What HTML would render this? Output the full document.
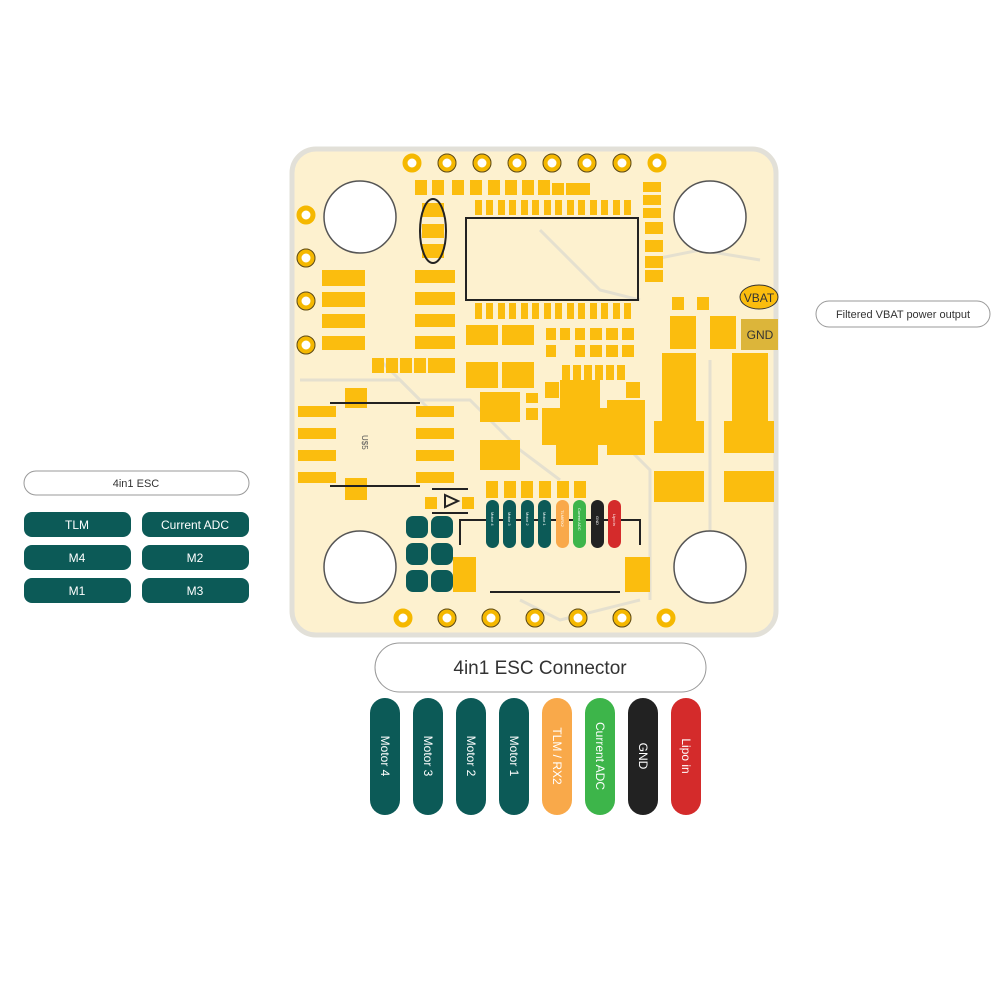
<!DOCTYPE html>
<html><head><meta charset="utf-8"><style>
body{margin:0;background:#fff;}
svg{display:block;font-family:"Liberation Sans",sans-serif;}
</style></head><body>
<svg width="1000" height="1000" viewBox="0 0 1000 1000" xmlns="http://www.w3.org/2000/svg">
<rect x="0" y="0" width="1000" height="1000" fill="#fff"/>
<rect x="292" y="149" width="484" height="486" rx="24" fill="#fdf1cf" stroke="#e2e0d8" stroke-width="5"/>
<g stroke="#e5e0cf" stroke-width="3" fill="none">
<path d="M380 360 L420 400 L470 400 L520 450 L560 480"/>
<path d="M300 380 L400 380 L430 410"/>
<path d="M540 230 L600 290 L640 300"/>
<path d="M520 600 L560 620 L640 600"/>
<path d="M650 260 L700 250 L760 260"/>
<path d="M600 420 L650 470 L650 600"/>
<path d="M710 360 L710 600"/>
</g>
<g fill="#fff" stroke="#555" stroke-width="1.5">
<circle cx="360" cy="217" r="36"/><circle cx="710" cy="217" r="36"/>
<circle cx="360" cy="567" r="36"/><circle cx="710" cy="567" r="36"/>
</g>
<g fill="#fff" stroke="#f5b800" stroke-width="5">
<circle cx="412" cy="163" r="7"/><circle cx="447" cy="163" r="7"/><circle cx="482" cy="163" r="7"/><circle cx="517" cy="163" r="7"/><circle cx="552" cy="163" r="7"/><circle cx="587" cy="163" r="7"/><circle cx="622" cy="163" r="7"/><circle cx="657" cy="163" r="7"/>
<circle cx="306" cy="215" r="7"/><circle cx="306" cy="258" r="7"/><circle cx="306" cy="301" r="7"/><circle cx="306" cy="345" r="7"/>
<circle cx="403" cy="618" r="7"/><circle cx="447" cy="618" r="7"/><circle cx="491" cy="618" r="7"/><circle cx="535" cy="618" r="7"/><circle cx="578" cy="618" r="7"/><circle cx="622" cy="618" r="7"/><circle cx="666" cy="618" r="7"/>
</g>
<g fill="none" stroke="#5a4a20" stroke-width="1">
<circle cx="447" cy="163" r="9"/><circle cx="482" cy="163" r="9"/><circle cx="517" cy="163" r="9"/><circle cx="552" cy="163" r="9"/><circle cx="587" cy="163" r="9"/><circle cx="622" cy="163" r="9"/>
<circle cx="306" cy="258" r="9"/><circle cx="306" cy="301" r="9"/><circle cx="306" cy="345" r="9"/>
<circle cx="447" cy="618" r="9"/><circle cx="491" cy="618" r="9"/><circle cx="535" cy="618" r="9"/><circle cx="578" cy="618" r="9"/><circle cx="622" cy="618" r="9"/>
</g>
<g fill="#fbbd0e">
<rect x="415" y="180" width="12" height="15"/><rect x="432" y="180" width="12" height="15"/><rect x="452" y="180" width="12" height="15"/><rect x="470" y="180" width="12" height="15"/><rect x="488" y="180" width="12" height="15"/><rect x="505" y="180" width="12" height="15"/><rect x="522" y="180" width="12" height="15"/><rect x="538" y="180" width="12" height="15"/><rect x="552" y="183" width="12" height="12"/><rect x="566" y="183" width="12" height="12"/><rect x="578" y="183" width="12" height="12"/>
<rect x="643" y="182" width="18" height="10"/><rect x="643" y="195" width="18" height="10"/><rect x="643" y="208" width="18" height="10"/><rect x="645" y="222" width="18" height="12"/><rect x="645" y="240" width="18" height="12"/><rect x="645" y="256" width="18" height="12"/><rect x="645" y="270" width="18" height="12"/>
<rect x="475" y="200" width="7" height="15"/><rect x="486" y="200" width="7" height="15"/><rect x="498" y="200" width="7" height="15"/><rect x="509" y="200" width="7" height="15"/><rect x="521" y="200" width="7" height="15"/><rect x="532" y="200" width="7" height="15"/><rect x="544" y="200" width="7" height="15"/><rect x="555" y="200" width="7" height="15"/><rect x="567" y="200" width="7" height="15"/><rect x="578" y="200" width="7" height="15"/><rect x="590" y="200" width="7" height="15"/><rect x="601" y="200" width="7" height="15"/><rect x="613" y="200" width="7" height="15"/><rect x="624" y="200" width="7" height="15"/>
<rect x="475" y="303" width="7" height="16"/><rect x="486" y="303" width="7" height="16"/><rect x="498" y="303" width="7" height="16"/><rect x="509" y="303" width="7" height="16"/><rect x="521" y="303" width="7" height="16"/><rect x="532" y="303" width="7" height="16"/><rect x="544" y="303" width="7" height="16"/><rect x="555" y="303" width="7" height="16"/><rect x="567" y="303" width="7" height="16"/><rect x="578" y="303" width="7" height="16"/><rect x="590" y="303" width="7" height="16"/><rect x="601" y="303" width="7" height="16"/><rect x="613" y="303" width="7" height="16"/><rect x="624" y="303" width="7" height="16"/>
<rect x="322" y="270" width="43" height="16"/><rect x="322" y="292" width="43" height="15"/><rect x="322" y="314" width="43" height="14"/><rect x="322" y="336" width="43" height="14"/>
<rect x="415" y="270" width="40" height="13"/><rect x="415" y="292" width="40" height="13"/><rect x="415" y="314" width="40" height="13"/><rect x="415" y="336" width="40" height="13"/>
<rect x="372" y="358" width="12" height="15"/><rect x="386" y="358" width="12" height="15"/><rect x="400" y="358" width="12" height="15"/><rect x="414" y="358" width="12" height="15"/><rect x="428" y="358" width="27" height="15"/>
<rect x="422" y="203" width="22" height="14"/><rect x="422" y="224" width="22" height="14"/><rect x="422" y="244" width="22" height="14"/>
<rect x="298" y="406" width="38" height="11"/><rect x="298" y="428" width="38" height="11"/><rect x="298" y="450" width="38" height="11"/><rect x="298" y="472" width="38" height="11"/>
<rect x="416" y="406" width="38" height="11"/><rect x="416" y="428" width="38" height="11"/><rect x="416" y="450" width="38" height="11"/><rect x="416" y="472" width="38" height="11"/>
<rect x="345" y="388" width="22" height="20"/><rect x="345" y="478" width="22" height="22"/>
<rect x="466" y="325" width="32" height="20"/><rect x="502" y="325" width="32" height="20"/>
<rect x="466" y="362" width="32" height="26"/><rect x="502" y="362" width="32" height="26"/>
<rect x="480" y="392" width="40" height="30"/><rect x="480" y="440" width="40" height="30"/>
<rect x="526" y="393" width="12" height="10"/><rect x="526" y="408" width="12" height="12"/>
<rect x="546" y="328" width="10" height="12"/><rect x="560" y="328" width="10" height="12"/><rect x="575" y="328" width="10" height="12"/><rect x="590" y="328" width="12" height="12"/><rect x="606" y="328" width="12" height="12"/><rect x="622" y="328" width="12" height="12"/>
<rect x="546" y="345" width="10" height="12"/><rect x="575" y="345" width="10" height="12"/><rect x="590" y="345" width="12" height="12"/><rect x="606" y="345" width="12" height="12"/><rect x="622" y="345" width="12" height="12"/>
<rect x="562" y="365" width="8" height="15"/><rect x="573" y="365" width="8" height="15"/><rect x="584" y="365" width="8" height="15"/><rect x="595" y="365" width="8" height="15"/><rect x="606" y="365" width="8" height="15"/><rect x="617" y="365" width="8" height="15"/>
<rect x="560" y="380" width="40" height="28"/>
<rect x="542" y="408" width="65" height="37"/><rect x="607" y="400" width="38" height="55"/>
<rect x="556" y="445" width="42" height="20"/><rect x="545" y="382" width="14" height="16"/><rect x="626" y="382" width="14" height="16"/>
<rect x="672" y="297" width="12" height="13"/><rect x="697" y="297" width="12" height="13"/>
<rect x="670" y="316" width="26" height="33"/><rect x="710" y="316" width="26" height="33"/>
<rect x="662" y="353" width="34" height="68"/><rect x="732" y="353" width="36" height="68"/>
<rect x="654" y="421" width="50" height="32"/><rect x="724" y="421" width="50" height="32"/>
<rect x="654" y="471" width="50" height="31"/><rect x="724" y="471" width="50" height="31"/>
<rect x="453" y="557" width="23" height="35"/><rect x="625" y="557" width="25" height="35"/>
<rect x="425" y="497" width="12" height="12"/><rect x="462" y="497" width="12" height="12"/>
<rect x="486" y="481" width="12" height="17"/><rect x="504" y="481" width="12" height="17"/><rect x="521" y="481" width="12" height="17"/><rect x="539" y="481" width="12" height="17"/><rect x="557" y="481" width="12" height="17"/><rect x="574" y="481" width="12" height="17"/>
</g>
<ellipse cx="433" cy="231" rx="13" ry="32" fill="none" stroke="#222" stroke-width="2"/>
<rect x="466" y="218" width="172" height="82" fill="none" stroke="#222" stroke-width="2"/>
<g stroke="#222" stroke-width="2" fill="none">
<path d="M330 403 H420"/><path d="M330 486 H420"/>
<path d="M432 489 H468"/><path d="M432 513 H468"/>
<path d="M460 545 V520 H640 V545"/><path d="M490 592 H620"/>
</g>
<path d="M445 495 L458 501 L445 507 Z" fill="none" stroke="#222" stroke-width="2"/>
<text x="362" y="435" font-size="8" fill="#555" transform="rotate(90 362 435)">U$5</text>
<g fill="#0c5a57">
<rect x="406" y="516" width="22" height="22" rx="7"/><rect x="431" y="516" width="22" height="22" rx="7"/>
<rect x="406" y="543" width="22" height="22" rx="7"/><rect x="431" y="543" width="22" height="22" rx="7"/>
<rect x="406" y="570" width="22" height="22" rx="7"/><rect x="431" y="570" width="22" height="22" rx="7"/>
</g>
<g font-size="4" fill="#fff">
<rect x="486" y="500" width="13" height="48" rx="6.5" fill="#0c5a57"/>
<rect x="503" y="500" width="13" height="48" rx="6.5" fill="#0c5a57"/>
<rect x="521" y="500" width="13" height="48" rx="6.5" fill="#0c5a57"/>
<rect x="538" y="500" width="13" height="48" rx="6.5" fill="#0c5a57"/>
<rect x="556" y="500" width="13" height="48" rx="6.5" fill="#f9a94a"/>
<rect x="573" y="500" width="13" height="48" rx="6.5" fill="#3db54a"/>
<rect x="591" y="500" width="13" height="48" rx="6.5" fill="#222"/>
<rect x="608" y="500" width="13" height="48" rx="6.5" fill="#d42b2b"/>
<text transform="translate(491 512) rotate(90)">Motor 4</text>
<text transform="translate(508 512) rotate(90)">Motor 3</text>
<text transform="translate(526 512) rotate(90)">Motor 2</text>
<text transform="translate(543 512) rotate(90)">Motor 1</text>
<text transform="translate(561 510) rotate(90)">TLM/RX2</text>
<text transform="translate(578 508) rotate(90)">Current ADC</text>
<text transform="translate(596 516) rotate(90)">GND</text>
<text transform="translate(613 514) rotate(90)">Lipo in</text>
</g>
<ellipse cx="759" cy="297" rx="19" ry="12" fill="#fbbd0e" stroke="#333" stroke-width="1"/>
<text x="759" y="302" font-size="12" text-anchor="middle" fill="#333">VBAT</text>
<rect x="741" y="319" width="37" height="31" fill="#dcb53a"/>
<text x="760" y="339" font-size="12" text-anchor="middle" fill="#333">GND</text>
<rect x="816" y="301" width="174" height="26" rx="13" fill="#fff" stroke="#999"/>
<text x="903" y="318" font-size="11" text-anchor="middle" fill="#333">Filtered VBAT power output</text>
<rect x="24" y="471" width="225" height="24" rx="12" fill="#fff" stroke="#999"/>
<text x="136" y="487" font-size="11" text-anchor="middle" fill="#333">4in1 ESC</text>
<g fill="#0c5a57">
<rect x="24" y="512" width="107" height="25" rx="8"/><rect x="142" y="512" width="107" height="25" rx="8"/>
<rect x="24" y="545" width="107" height="25" rx="8"/><rect x="142" y="545" width="107" height="25" rx="8"/>
<rect x="24" y="578" width="107" height="25" rx="8"/><rect x="142" y="578" width="107" height="25" rx="8"/>
</g>
<g font-size="12" fill="#fff" text-anchor="middle">
<text x="77" y="529">TLM</text><text x="195" y="529">Current ADC</text>
<text x="77" y="562">M4</text><text x="195" y="562">M2</text>
<text x="77" y="595">M1</text><text x="195" y="595">M3</text>
</g>
<rect x="375" y="643" width="331" height="49" rx="24.5" fill="#fff" stroke="#999"/>
<text x="540" y="674" font-size="19" text-anchor="middle" fill="#333">4in1 ESC Connector</text>
<g>
<rect x="370" y="698" width="30" height="117" rx="15" fill="#0c5a57"/>
<rect x="413" y="698" width="30" height="117" rx="15" fill="#0c5a57"/>
<rect x="456" y="698" width="30" height="117" rx="15" fill="#0c5a57"/>
<rect x="499" y="698" width="30" height="117" rx="15" fill="#0c5a57"/>
<rect x="542" y="698" width="30" height="117" rx="15" fill="#f9a94a"/>
<rect x="585" y="698" width="30" height="117" rx="15" fill="#3db54a"/>
<rect x="628" y="698" width="30" height="117" rx="15" fill="#222"/>
<rect x="671" y="698" width="30" height="117" rx="15" fill="#d42b2b"/>
</g>
<g font-size="12" fill="#fff" text-anchor="middle">
<text transform="translate(381 756) rotate(90)">Motor 4</text>
<text transform="translate(424 756) rotate(90)">Motor 3</text>
<text transform="translate(467 756) rotate(90)">Motor 2</text>
<text transform="translate(510 756) rotate(90)">Motor 1</text>
<text transform="translate(553 756) rotate(90)">TLM / RX2</text>
<text transform="translate(596 756) rotate(90)">Current ADC</text>
<text transform="translate(639 756) rotate(90)">GND</text>
<text transform="translate(682 756) rotate(90)">Lipo in</text>
</g>
</svg>
</body></html>
